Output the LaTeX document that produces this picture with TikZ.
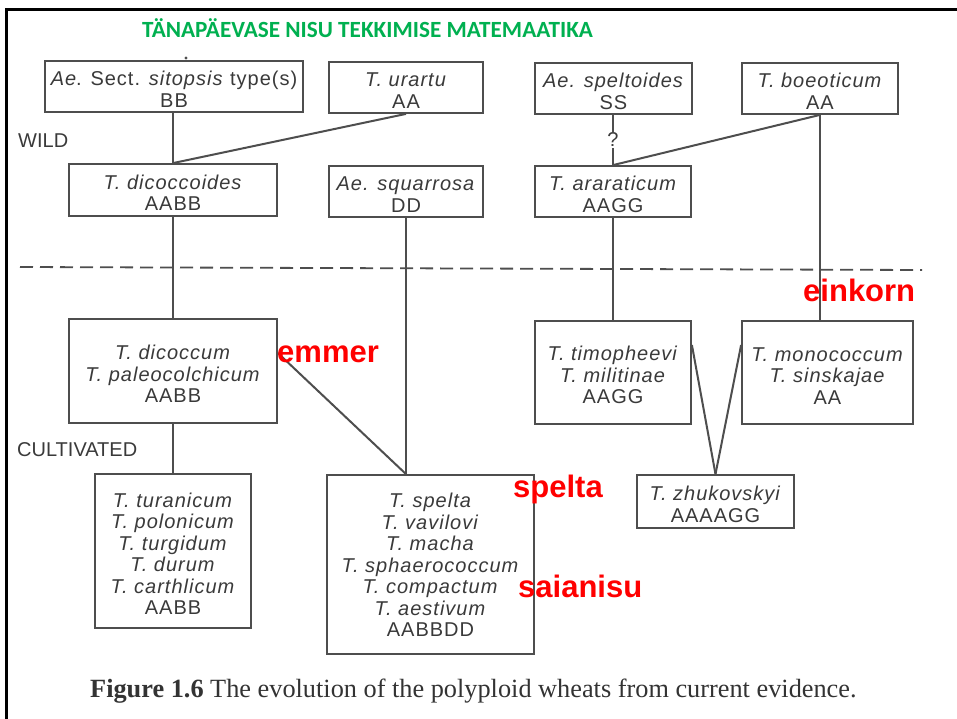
\documentclass[tikz,border=0pt]{standalone}
\usepackage{fontspec}
\usetikzlibrary{calc}
\newfontfamily\dfont[LetterSpace=5]{Liberation Sans}
\newfontfamily\rfont{Liberation Sans}
\newfontfamily\tfont{Carlito}
\newfontfamily\cfont{Liberation Serif}
\definecolor{txtgray}{HTML}{3A3A3A}
\definecolor{linegray}{HTML}{4E4E4E}
\definecolor{labred}{HTML}{FF0000}
\definecolor{titlegreen}{HTML}{00B050}
\definecolor{capgray}{HTML}{333333}
\newcommand\liftA{\rule{0pt}{20pt}}
\newcommand\liftB{\rule{0pt}{15pt}}
\tikzset{
  box/.style={draw=linegray, line width=1.8pt, inner sep=0pt, align=center,
    text=txtgray, font=\dfont\fontsize{20}{21.5}\selectfont},
  conn/.style={draw=linegray, line width=2pt},
  sidelab/.style={text=txtgray, font=\rfont\fontsize{20}{22}\selectfont, inner sep=0pt, anchor=base west},
  redlab/.style={text=labred, font=\rfont\bfseries\fontsize{31}{31}\selectfont, inner sep=0pt, anchor=base west},
}
\begin{document}
\begin{tikzpicture}[x=1pt,y=-1pt]
\useasboundingbox (0,0) rectangle (957,719);
\fill[white] (0,0) rectangle (957,719);
% frame
\draw[line width=3pt] (6,719) -- (6,9.5) -- (957,9.5);
% title
\node[text=titlegreen, font=\tfont\bfseries\fontsize{23.2}{25}\selectfont, inner sep=0pt] (title) at (367.5,28.5) {TÄNAPÄEVASE NISU TEKKIMISE MATEMAATIKA};
% boxes
\node[box, minimum width=258, minimum height=51] (sit) at (174,86.5) {\liftA\textit{Ae}. Sect. \textit{sitopsis} type(s)\\BB};
\node[box, minimum width=154, minimum height=51] (ura) at (406,87.5) {\liftA\textit{T. urartu}\\AA};
\node[box, minimum width=157, minimum height=51] (spe) at (613.5,88.5) {\liftA\textit{Ae. speltoides}\\SS};
\node[box, minimum width=156, minimum height=51] (boe) at (820,88.5) {\liftA\textit{T. boeoticum}\\AA};
\node[box, minimum width=208, minimum height=52] (dic) at (173,190) {\liftA\textit{T. dicoccoides}\\AABB};
\node[box, minimum width=154, minimum height=51] (squ) at (406,191.5) {\liftA\textit{Ae. squarrosa}\\DD};
\node[box, minimum width=156, minimum height=51] (ara) at (613,191.5) {\liftA\textit{T. araraticum}\\AAGG};
\node[box, minimum width=208, minimum height=104] (dcm) at (173,371) {\liftA\textit{T. dicoccum}\\\textit{T. paleocolchicum}\\AABB};
\node[box, minimum width=156, minimum height=103] (tim) at (613,372.5) {\liftA\textit{T. timopheevi}\\\textit{T. militinae}\\AAGG};
\node[box, minimum width=171, minimum height=103] (mon) at (827.5,372.5) {\liftA\textit{T. monococcum}\\\textit{T. sinskajae}\\AA};
\node[box, minimum width=156, minimum height=154] (tur) at (173,551) {\liftA\textit{T. turanicum}\\\textit{T. polonicum}\\\textit{T. turgidum}\\\textit{T. durum}\\\textit{T. carthlicum}\\AABB};
\node[box, minimum width=207, minimum height=179] (spl) at (430.5,564.5) {\liftB\textit{T. spelta}\\\textit{T. vavilovi}\\\textit{T. macha}\\\textit{T. sphaerococcum}\\\textit{T. compactum}\\\textit{T. aestivum}\\AABBDD};
\node[box, minimum width=157, minimum height=53] (zhu) at (715.5,501.5) {\liftA\textit{T. zhukovskyi}\\AAAAGG};
\fill[linegray] (186,58) circle[radius=1.6pt];
% side labels
\node[sidelab] (wild) at (18,148) {WILD};
\node[sidelab] (cult) at (17,456) {CULTIVATED};
% dashed divider
\coordinate (dl) at (20,267);
\coordinate (dr) at (922,270);
\draw[linegray, line width=1.8pt, dash pattern=on 13pt off 7pt] (dl) -- (dr);
% connectors
\draw[conn] (dic.north |- sit.south) -- (dic.north);
\draw[conn] (ura.south) -- (dic.north);
\draw[conn] (dic.south) -- (dcm.north);
\draw[conn] (dcm.south) -- (tur.north);
\draw[conn] (squ.south) -- (squ.south |- spl.north);
\draw[conn] ($(dcm.east)+(0,-18)$) -- (squ.south |- spl.north);
\draw[conn] (ara.north |- spe.south) -- node[fill=white, inner sep=1pt, text=txtgray, font=\rfont\fontsize{20}{22}\selectfont] (q) {?} (ara.north);
\draw[conn] (boe.south) -- (ara.north);
\draw[conn] (boe.south) -- (boe.south |- mon.north);
\draw[conn] (ara.south) -- (tim.north);
\draw[conn] ($(tim.east)+(0,-27.5)$) -- (zhu.north);
\draw[conn] ($(mon.west)+(0,-27.5)$) -- (zhu.north);
% red labels
\node[redlab] (emmer) at (277,362) {emmer};
\node[redlab] (einkorn) at (803,301) {einkorn};
\node[redlab] (spelta) at (513,497) {spelta};
\node[redlab] (saianisu) at (518,597) {saianisu};
% caption
\node[text=capgray, font=\cfont\fontsize{26.3}{28}\selectfont, inner sep=0pt, anchor=base west] (cap) at (90,697) {\textbf{Figure 1.6} The evolution of the polyploid wheats from current evidence.};
\end{tikzpicture}
\end{document}
